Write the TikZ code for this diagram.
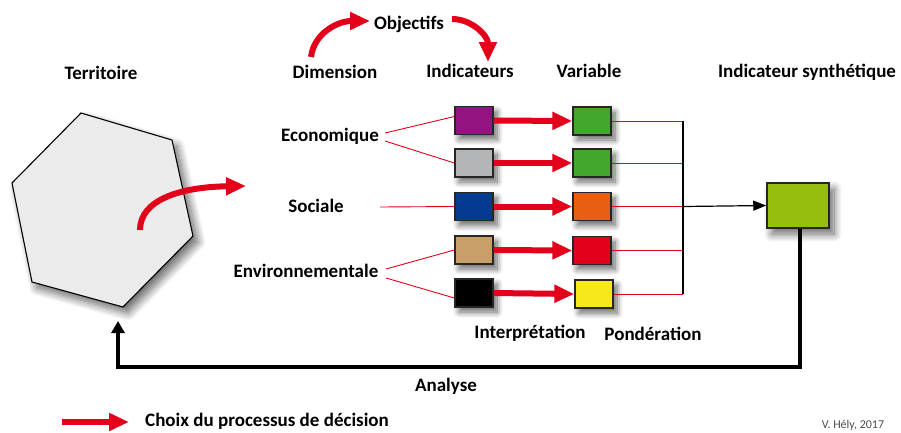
\documentclass[tikz,border=0pt]{standalone}
\usepackage{fontspec}
\setmainfont{Carlito}
\usetikzlibrary{arrows.meta,shadows,shadows.blur}
\definecolor{hexfill}{HTML}{EBEBEB}
\definecolor{redarr}{HTML}{E2001A}
\definecolor{cpurple}{HTML}{931480}
\definecolor{cgray}{HTML}{B4B5B7}
\definecolor{cnavy}{HTML}{043A8F}
\definecolor{ctan}{HTML}{C89E69}
\definecolor{cgreen}{HTML}{43A62D}
\definecolor{corange}{HTML}{E85E13}
\definecolor{cred}{HTML}{E2001A}
\definecolor{cyellow}{HTML}{F6E81A}
\definecolor{csyn}{HTML}{95BE0F}
\tikzset{
  lbl/.style={font=\fontsize{19}{22}\selectfont\bfseries, inner sep=0pt},
  cbox/.style={draw=black!85, line width=1.3pt, minimum width=38pt, minimum height=28pt, inner sep=0pt,
    blur shadow={shadow xshift=4pt, shadow yshift=-5pt, shadow blur steps=10, shadow opacity=60, shadow blur radius=6pt}},
  bigred/.style={draw=redarr, line width=6pt, -{Triangle[length=20pt,width=17pt]}},
  thinred/.style={draw=redarr, line width=0.9pt},
}
\begin{document}
\begin{tikzpicture}[x=1pt,y=-1pt]
\useasboundingbox (0,0) rectangle (901,432);
% hexagon
\path[fill=hexfill, draw=black, line width=1.1pt,
  blur shadow={shadow xshift=5pt, shadow yshift=-6pt, shadow blur steps=12, shadow opacity=60, shadow blur radius=8pt}]
  (81,113) -- (172,140) -- (193,236) -- (123,307) -- (32,282) -- (12,183) -- cycle;
\draw[bigred] (140,230) .. controls (140,200) and (180,187) .. (246,186);

% top labels
\node[lbl] (terr) at (101,73) {Territoire};
\node[lbl] (dim) at (335,72) {Dimension};
\node[lbl] (obj) at (409,24) {Objectifs};
\node[lbl] (ind) at (470,71) {Indicateurs};
\node[lbl] (var) at (589,71) {Variable};
\node[lbl] (syntxt) at (807,72) {Indicateur synthétique};
\draw[bigred] (311,57) .. controls (314,33) and (338,21) .. (370,21);
\draw[bigred] (452,19) .. controls (472,19) and (488,36) .. (488,62);

% dimension labels
\node[lbl] (eco) at (330,136) {Economique};
\node[lbl] (soc) at (316,206) {Sociale};
\node[lbl] (env) at (306,271) {Environnementale};

% indicator boxes
\node[cbox, fill=cpurple] (i1) at (474,120.5) {};
\node[cbox, fill=cgray]   (i2) at (474,163) {};
\node[cbox, fill=cnavy]   (i3) at (474,206.5) {};
\node[cbox, fill=ctan]    (i4) at (474,250) {};
\node[cbox, fill=black]   (i5) at (474,293) {};
% variable boxes
\node[cbox, fill=cgreen]  (v1) at (592,121) {};
\node[cbox, fill=cgreen]  (v2) at (592,163) {};
\node[cbox, fill=corange] (v3) at (592,206.5) {};
\node[cbox, fill=cred]    (v4) at (592,250.5) {};
\node[cbox, fill=cyellow] (v5) at (594,294) {};
% synthetic box
\node[draw=black!85, line width=1.5pt, fill=csyn, minimum width=62pt, minimum height=45pt, inner sep=0pt,
  blur shadow={shadow xshift=5pt, shadow yshift=-6pt, shadow blur steps=12, shadow opacity=60, shadow blur radius=8pt}] (syn) at (798,205.5) {};

% thin red from dimensions
\coordinate (e1) at (385,133);
\coordinate (e2) at (385,141);
\coordinate (s1) at (380,207);
\coordinate (n1) at (386,269);
\coordinate (n2) at (386,278);
\draw[thinred] (e1) -- ([yshift=4pt]i1.west);
\draw[thinred] (e2) -- (i2.west);
\draw[thinred] (s1) -- (i3.west);
\draw[thinred] (n1) -- (i4.west);
\draw[thinred] (n2) -- ([yshift=-5pt]i5.west);

% thick red arrows
\draw[bigred] (i1.east) -- (v1.west);
\draw[bigred] (i2.east) -- (v2.west);
\draw[bigred] (i3.east) -- (v3.west);
\draw[bigred] (i4.east) -- (v4.west);
\draw[bigred] (i5.east) -- (v5.west);

% right collectors
\coordinate (j) at (683,206.5);
\foreach \v in {v1,v2,v3,v4,v5} \draw[thinred] (\v.east) -- (\v.east -| j);
\draw[black, line width=1.2pt] (v1.east -| j) -- (v5.east -| j);
\draw[black, line width=1.2pt, -{Triangle[length=13pt,width=10pt]}] (j) -- (syn.west);

% feedback
\coordinate (fb2) at (118,367);
\coordinate (hexbot) at (118,321);
\draw[black, line width=4pt, -{Triangle[length=12pt,width=13pt]}] ([xshift=2pt]syn.south) |- (fb2) -- (hexbot);

% bottom labels
\node[lbl] (interp) at (530,333) {Interprétation};
\node[lbl] (pond) at (653,334) {Pondération};
\node[lbl] (ana) at (446,386) {Analyse};

% legend
\coordinate (lg1) at (62,422);
\coordinate (lg2) at (129,422);
\draw[bigred] (lg1) -- (lg2);
\node[lbl, anchor=west] (legtxt) at (145,421) {Choix du processus de décision};
\node[font=\fontsize{12}{13}\selectfont, text=black!70, inner sep=0pt] (auth) at (853,425) {V. Hély, 2017};
\end{tikzpicture}
\end{document}
